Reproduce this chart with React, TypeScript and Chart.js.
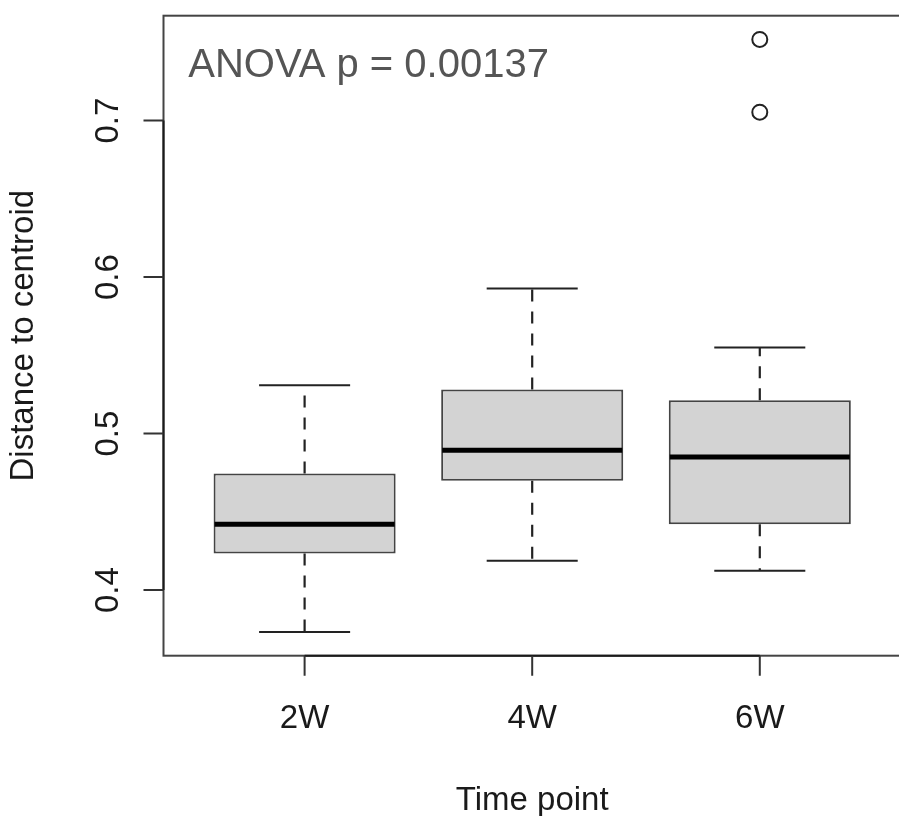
import React, { useEffect, useRef } from 'react';
import { Chart, registerables } from 'chart.js';

Chart.register(...registerables);

// ---- data ----
const groups = ['2W', '4W', '6W'];
const groupPos = [1, 2, 3];
const whiskerLow = [0.3732, 0.4187, 0.4123];
const q1 = [0.4234, 0.4698, 0.4421];
const median = [0.4421, 0.4894, 0.4851];
const q3 = [0.4745, 0.5282, 0.5213];
const whiskerHigh = [0.5309, 0.5927, 0.555];
const outlierGroup = [3, 3];
const outlierValue = [0.7519, 0.7054];
const yTicks = [0.4, 0.5, 0.6, 0.7];
const yTickLabels = ['0.4', '0.5', '0.6', '0.7'];
const xTitle = 'Time point';
const yTitle = 'Distance to centroid';
const annotation = 'ANOVA p = 0.00137';

const FONT = '"Liberation Sans", Arial, Helvetica, sans-serif';

const allValues = [...whiskerLow, ...whiskerHigh, ...outlierValue];
const dMin = Math.min(...allValues);
const dMax = Math.max(...allValues);
const ext = (dMax - dMin) * 0.04;
const xExt = (groups.length) * 0.04;

const rBoxPlugin = {
  id: 'rBoxplot',
  afterDatasetsDraw(chart: any) {
    const { ctx, chartArea: a } = chart;
    const x = chart.scales.x;
    const y = chart.scales.y;
    ctx.save();
    // whiskers, caps, medians
    for (let i = 0; i < groups.length; i++) {
      const cx = x.getPixelForValue(groupPos[i]);
      const capL = x.getPixelForValue(groupPos[i] - 0.2);
      const capR = x.getPixelForValue(groupPos[i] + 0.2);
      const boxL = x.getPixelForValue(groupPos[i] - 0.4);
      const boxR = x.getPixelForValue(groupPos[i] + 0.4);
      ctx.strokeStyle = '#222';
      ctx.lineWidth = 2.2;
      ctx.lineCap = 'butt';
      ctx.setLineDash([12, 10]);
      ctx.beginPath();
      ctx.moveTo(cx, y.getPixelForValue(q3[i]));
      ctx.lineTo(cx, y.getPixelForValue(whiskerHigh[i]));
      ctx.stroke();
      ctx.beginPath();
      ctx.moveTo(cx, y.getPixelForValue(q1[i]));
      ctx.lineTo(cx, y.getPixelForValue(whiskerLow[i]));
      ctx.stroke();
      ctx.setLineDash([]);
      ctx.lineWidth = 2;
      ctx.beginPath();
      ctx.moveTo(capL, y.getPixelForValue(whiskerHigh[i]));
      ctx.lineTo(capR, y.getPixelForValue(whiskerHigh[i]));
      ctx.moveTo(capL, y.getPixelForValue(whiskerLow[i]));
      ctx.lineTo(capR, y.getPixelForValue(whiskerLow[i]));
      ctx.stroke();
      ctx.strokeStyle = '#000';
      ctx.lineWidth = 5;
      ctx.beginPath();
      ctx.moveTo(boxL + 1, y.getPixelForValue(median[i]));
      ctx.lineTo(boxR - 1, y.getPixelForValue(median[i]));
      ctx.stroke();
    }
    // frame
    ctx.strokeStyle = '#444';
    ctx.lineWidth = 2;
    ctx.strokeRect(a.left, a.top, a.right - a.left, a.bottom - a.top);
    // axis lines
    ctx.strokeStyle = '#1a1a1a';
    ctx.beginPath();
    ctx.moveTo(x.getPixelForValue(groupPos[0]), a.bottom);
    ctx.lineTo(x.getPixelForValue(groupPos[groupPos.length - 1]), a.bottom);
    ctx.moveTo(a.left, y.getPixelForValue(yTicks[0]));
    ctx.lineTo(a.left, y.getPixelForValue(yTicks[yTicks.length - 1]));
    ctx.stroke();
    // ticks
    ctx.strokeStyle = '#333';
    ctx.beginPath();
    groupPos.forEach((g) => {
      const px = x.getPixelForValue(g);
      ctx.moveTo(px, a.bottom);
      ctx.lineTo(px, a.bottom + 20);
    });
    yTicks.forEach((t) => {
      const py = y.getPixelForValue(t);
      ctx.moveTo(a.left, py);
      ctx.lineTo(a.left - 20, py);
    });
    ctx.stroke();
    // tick labels
    ctx.fillStyle = '#1a1a1a';
    ctx.font = `33px ${FONT}`;
    ctx.textAlign = 'center';
    ctx.textBaseline = 'alphabetic';
    groups.forEach((g, i) => {
      ctx.fillText(g, x.getPixelForValue(groupPos[i]), a.bottom + 72.3);
    });
    yTicks.forEach((t, i) => {
      ctx.save();
      ctx.translate(a.left - 45.5, y.getPixelForValue(t));
      ctx.rotate(-Math.PI / 2);
      ctx.fillText(yTickLabels[i], 0, 0);
      ctx.restore();
    });
    // axis titles
    ctx.fillText(xTitle, (a.left + a.right) / 2, a.bottom + 154.3);
    ctx.save();
    ctx.translate(a.left - 130.5, (a.top + a.bottom) / 2);
    ctx.rotate(-Math.PI / 2);
    ctx.fillText(yTitle, 0, 0);
    ctx.restore();
    // annotation
    ctx.fillStyle = '#555';
    ctx.font = `40px ${FONT}`;
    ctx.textAlign = 'left';
    ctx.fillText(annotation, a.left + 24.8, a.top + 61.3);
    ctx.restore();
  },
};

export default function App() {
  const ref = useRef<HTMLCanvasElement>(null);
  useEffect(() => {
    if (!ref.current) return;
    const chart = new Chart(ref.current, {
      type: 'bar',
      data: {
        datasets: [
          {
            type: 'bar',
            data: groupPos.map((g, i) => ({ x: g, y: [q1[i], q3[i]] })) as any,
            backgroundColor: '#d3d3d3',
            borderColor: '#444',
            borderWidth: 2,
            borderSkipped: false,
            barPercentage: 0.8,
            categoryPercentage: 1,
          } as any,
          {
            type: 'scatter',
            data: outlierGroup.map((g, i) => ({ x: g, y: outlierValue[i] })),
            pointStyle: 'circle',
            pointRadius: 7.5,
            pointBorderWidth: 2,
            pointBorderColor: '#222',
            pointBackgroundColor: 'rgba(0,0,0,0)',
          } as any,
        ],
      },
      options: {
        responsive: false,
        animation: false,
        devicePixelRatio: 1,
        layout: {
          padding: { left: 163.5, top: 15.7, right: 19.1, bottom: 160.3 },
        },
        plugins: {
          legend: { display: false },
          tooltip: { enabled: false },
        },
        scales: {
          x: {
            type: 'linear',
            display: false,
            offset: false,
            grace: 0,
            bounds: 'data',
            min: groupPos[0] - 0.5 - xExt,
            max: groupPos[groupPos.length - 1] + 0.5 + xExt,
            afterBuildTicks: (s: any) => {
              s.ticks = groupPos.map((v) => ({ value: v }));
            },
          },
          y: {
            type: 'linear',
            display: false,
            offset: false,
            bounds: 'data',
            min: dMin - ext,
            max: dMax + ext,
            afterBuildTicks: (s: any) => {
              s.ticks = yTicks.map((v) => ({ value: v }));
            },
          },
        },
      } as any,
      plugins: [rBoxPlugin],
    });
    return () => chart.destroy();
  }, []);
  return (
    <div
      style={{
        position: 'fixed',
        left: 0,
        top: 0,
        width: 899,
        height: 816,
        overflow: 'hidden',
        background: '#fff',
      }}
    >
      <canvas ref={ref} width={920} height={816} style={{ display: 'block' }} />
    </div>
  );
}
